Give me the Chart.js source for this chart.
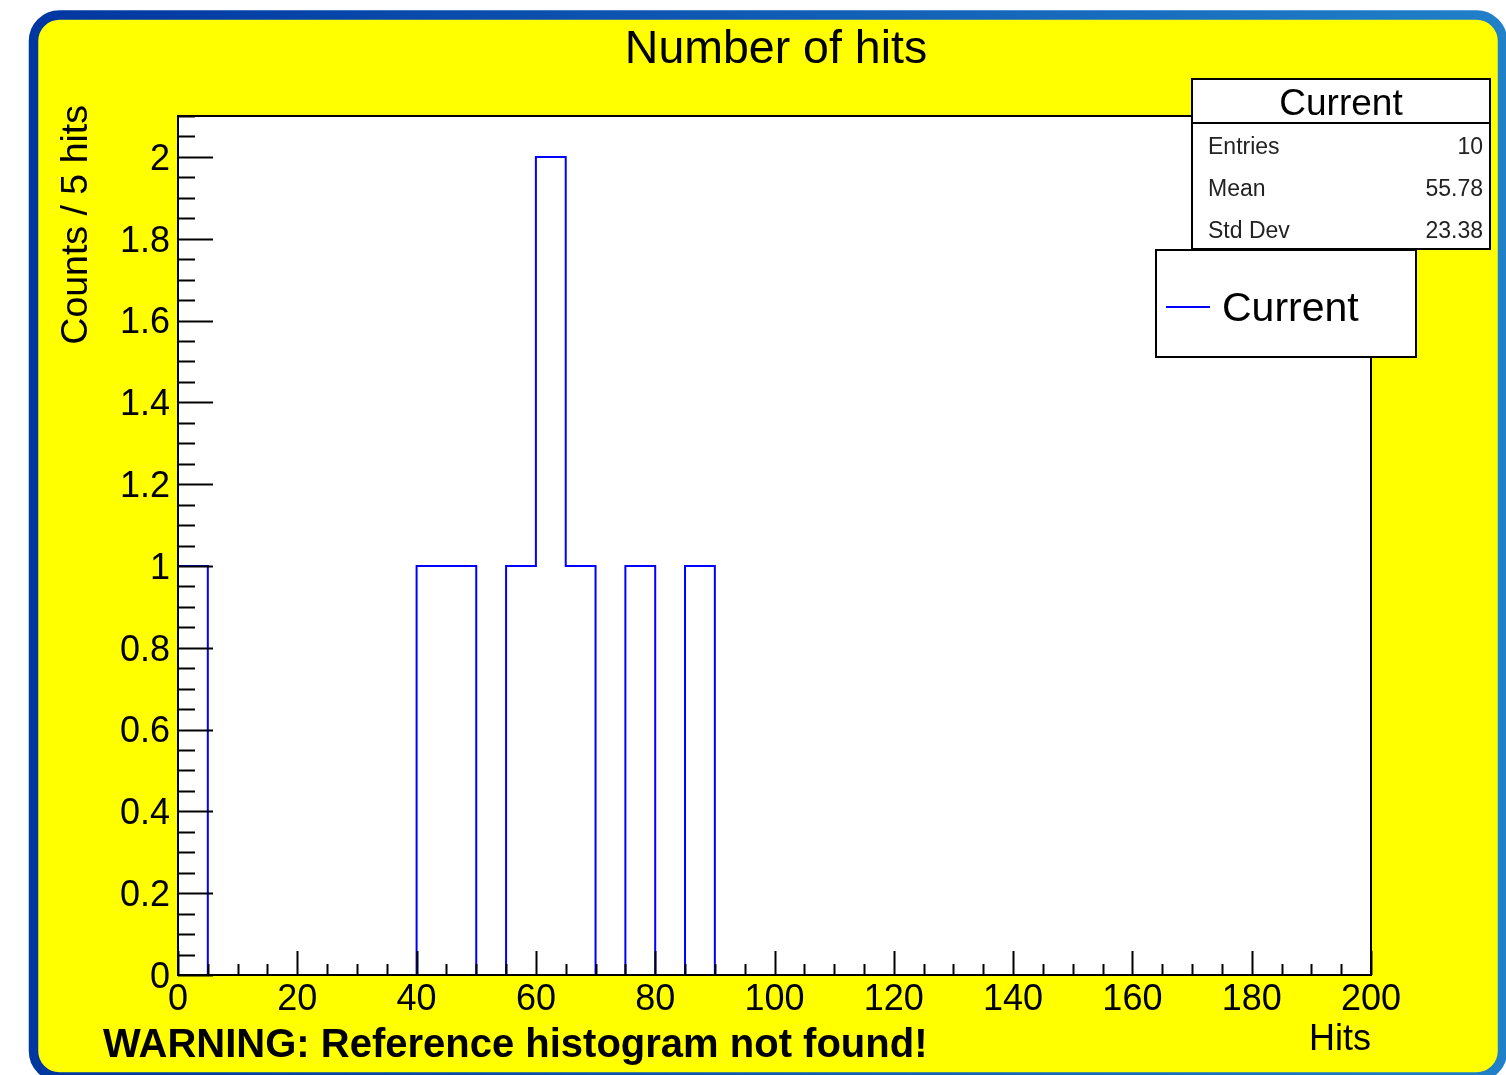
<!DOCTYPE html>
<html><head><meta charset="utf-8">
<script src="https://cdn.jsdelivr.net/npm/chart.js@4.4.1/dist/chart.umd.min.js"></script>
<style>html,body{margin:0;padding:0;background:#fff;overflow:hidden}canvas{display:block}</style>
</head><body>
<canvas id="c" width="1506" height="1075"></canvas>
<script>
// ---------- data ----------
const binLowEdges = [0,5,10,15,20,25,30,35,40,45,50,55,60,65,70,75,80,85,90,95,
                     100,105,110,115,120,125,130,135,140,145,150,155,160,165,170,175,180,185,190,195];
const binUpEdge = 200;
const counts = [1,0,0,0,0,0,0,0,1,1,0,1,2,1,0,1,0,1,0,0,
                0,0,0,0,0,0,0,0,0,0,0,0,0,0,0,0,0,0,0,0];
const xTickValues = [0,20,40,60,80,100,120,140,160,180,200];
const xTickLabels = ['0','20','40','60','80','100','120','140','160','180','200'];
const yTickValues = [0,0.2,0.4,0.6,0.8,1,1.2,1.4,1.6,1.8,2];
const yTickLabels = ['0','0.2','0.4','0.6','0.8','1','1.2','1.4','1.6','1.8','2'];
const xRange = [0,200];
const yRange = [0,2.1];
const chartTitle = 'Number of hits';
const xTitle = 'Hits';
const yTitle = 'Counts / 5 hits';
const seriesName = 'Current';
const statsLabels = ['Entries','Mean','Std Dev'];
const statsValues = ['10','55.78','23.38'];
const warningText = 'WARNING: Reference histogram not found!';

// ---------- build outline points from bins ----------
const outline = [{x: binLowEdges[0], y: 0}];
binLowEdges.forEach((e, i) => outline.push({x: e, y: counts[i]}));
outline.push({x: binUpEdge, y: 0});

const FONT = '"Liberation Sans", Arial, Helvetica, sans-serif';
const xMinorStep = 5, yMinorStep = 0.05;

function roundRect(ctx, x, y, w, h, r) {
  ctx.beginPath();
  ctx.moveTo(x + r, y);
  ctx.lineTo(x + w - r, y);
  ctx.arcTo(x + w, y, x + w, y + r, r);
  ctx.lineTo(x + w, y + h - r);
  ctx.arcTo(x + w, y + h, x + w - r, y + h, r);
  ctx.lineTo(x + r, y + h);
  ctx.arcTo(x, y + h, x, y + h - r, r);
  ctx.lineTo(x, y + r);
  ctx.arcTo(x, y, x + r, y, r);
  ctx.closePath();
}

const decor = {
  id: 'decor',
  beforeDraw(chart) {
    const ctx = chart.ctx, a = chart.chartArea;
    ctx.save();
    ctx.fillStyle = '#ffffff';
    ctx.fillRect(0, 0, chart.width, chart.height);
    roundRect(ctx, 33.5, 15, 1469, 1062, 26);
    ctx.fillStyle = '#ffff00';
    ctx.fill();
    const g = ctx.createLinearGradient(29, 0, 1506, 0);
    g.addColorStop(0, '#0036a0');
    g.addColorStop(1, '#2080c8');
    ctx.strokeStyle = g;
    ctx.lineWidth = 9.5;
    ctx.stroke();
    ctx.fillStyle = '#ffffff';
    ctx.fillRect(a.left, a.top, a.right - a.left, a.bottom - a.top);
    ctx.restore();
  },
  afterDatasetsDraw(chart) {
    const ctx = chart.ctx, a = chart.chartArea;
    const xs = chart.scales.x, ys = chart.scales.y;
    ctx.save();
    ctx.strokeStyle = '#000';
    ctx.lineWidth = 2;
    ctx.strokeRect(a.left, a.top, a.right - a.left, a.bottom - a.top);
    ctx.beginPath();
    for (let k = 0; k * yMinorStep <= yRange[1] + 1e-9; k++) {
      const v = k * yMinorStep;
      const py = Math.round(ys.getPixelForValue(v)) + 0.5;
      const len = (k % 4 === 0) ? 35 : 17;
      ctx.moveTo(a.left, py);
      ctx.lineTo(a.left + len, py);
    }
    for (let k = 0; k * xMinorStep <= xRange[1] + 1e-9; k++) {
      const v = k * xMinorStep;
      const px = Math.round(xs.getPixelForValue(v)) + 0.5;
      const len = (k % 4 === 0) ? 24 : 11;
      ctx.moveTo(px, a.bottom);
      ctx.lineTo(px, a.bottom - len);
    }
    ctx.stroke();
    ctx.restore();
  },
  afterDraw(chart) {
    const ctx = chart.ctx;
    ctx.save();
    ctx.fillStyle = '#000';
    ctx.textBaseline = 'middle';
    // title
    ctx.font = '46.5px ' + FONT;
    ctx.textAlign = 'center';
    ctx.fillText(chartTitle, 776, 50);
    // y axis title (rotated, aligned to the top)
    ctx.save();
    ctx.translate(77, 105);
    ctx.rotate(-Math.PI / 2);
    ctx.font = '37.5px ' + FONT;
    ctx.textAlign = 'right';
    ctx.fillText(yTitle, 0, 0);
    ctx.restore();
    // warning
    ctx.font = 'bold 40px ' + FONT;
    ctx.textAlign = 'left';
    ctx.fillText(warningText, 103, 1046);
    // stats box
    ctx.fillStyle = '#fff';
    ctx.fillRect(1192, 79, 298, 170);
    ctx.strokeStyle = '#000';
    ctx.lineWidth = 2;
    ctx.strokeRect(1192, 79, 298, 170);
    ctx.beginPath();
    ctx.moveTo(1192, 123); ctx.lineTo(1490, 123);
    ctx.stroke();
    ctx.fillStyle = '#000';
    ctx.font = '37px ' + FONT;
    ctx.textAlign = 'center';
    ctx.fillText(seriesName, 1341, 105);
    ctx.font = '23px ' + FONT;
    ctx.fillStyle = '#222';
    statsLabels.forEach((l, i) => {
      const y = 148 + i * 42;
      ctx.textAlign = 'left';
      ctx.fillText(l, 1208, y);
      ctx.textAlign = 'right';
      ctx.fillText(statsValues[i], 1483, y);
    });
    // legend box
    ctx.fillStyle = '#fff';
    ctx.fillRect(1156, 250, 260, 107);
    ctx.strokeStyle = '#000';
    ctx.strokeRect(1156, 250, 260, 107);
    ctx.strokeStyle = chart.data.datasets[0].borderColor;
    ctx.beginPath();
    ctx.moveTo(1166, 307); ctx.lineTo(1210, 307);
    ctx.stroke();
    ctx.fillStyle = '#000';
    ctx.font = '41px ' + FONT;
    ctx.textAlign = 'left';
    ctx.fillText(chart.data.datasets[0].label, 1222, 310);
    ctx.restore();
  }
};

new Chart(document.getElementById('c'), {
  type: 'line',
  data: {
    datasets: [{
      label: seriesName,
      data: outline,
      borderColor: '#0000ff',
      borderWidth: 2,
      pointRadius: 0,
      fill: false,
      stepped: 'before',
      tension: 0
    }]
  },
  options: {
    responsive: false,
    animation: false,
    devicePixelRatio: 1,
    layout: { padding: { top: 116, right: 135, bottom: 0, left: 0 } },
    plugins: { legend: { display: false }, title: { display: false }, tooltip: { enabled: false } },
    scales: {
      x: {
        type: 'linear', position: 'bottom',
        min: xRange[0], max: xRange[1],
        afterBuildTicks: s => { s.ticks = xTickValues.map(v => ({ value: v })); },
        afterFit: s => { s.height = 100; },
        grid: { display: false, drawTicks: false },
        border: { display: false },
        ticks: {
          color: '#000', padding: 3, maxRotation: 0, autoSkip: false,
          font: { family: FONT, size: 36 },
          callback: (v, i) => xTickLabels[i]
        },
        title: {
          display: true, text: xTitle, align: 'end', color: '#000',
          font: { family: FONT, size: 36 }, padding: { top: 0, bottom: 13 }
        }
      },
      y: {
        type: 'linear', position: 'left',
        min: yRange[0], max: yRange[1],
        afterBuildTicks: s => { s.ticks = yTickValues.map(v => ({ value: v })); },
        afterFit: s => { s.width = 178; },
        grid: { display: false, drawTicks: false },
        border: { display: false },
        ticks: {
          color: '#000', padding: 8, autoSkip: false, labelOffset: 3,
          font: { family: FONT, size: 36 },
          callback: (v, i) => yTickLabels[i]
        },
        title: { display: false, text: yTitle }
      }
    }
  },
  plugins: [decor]
});
</script>
</body></html>
